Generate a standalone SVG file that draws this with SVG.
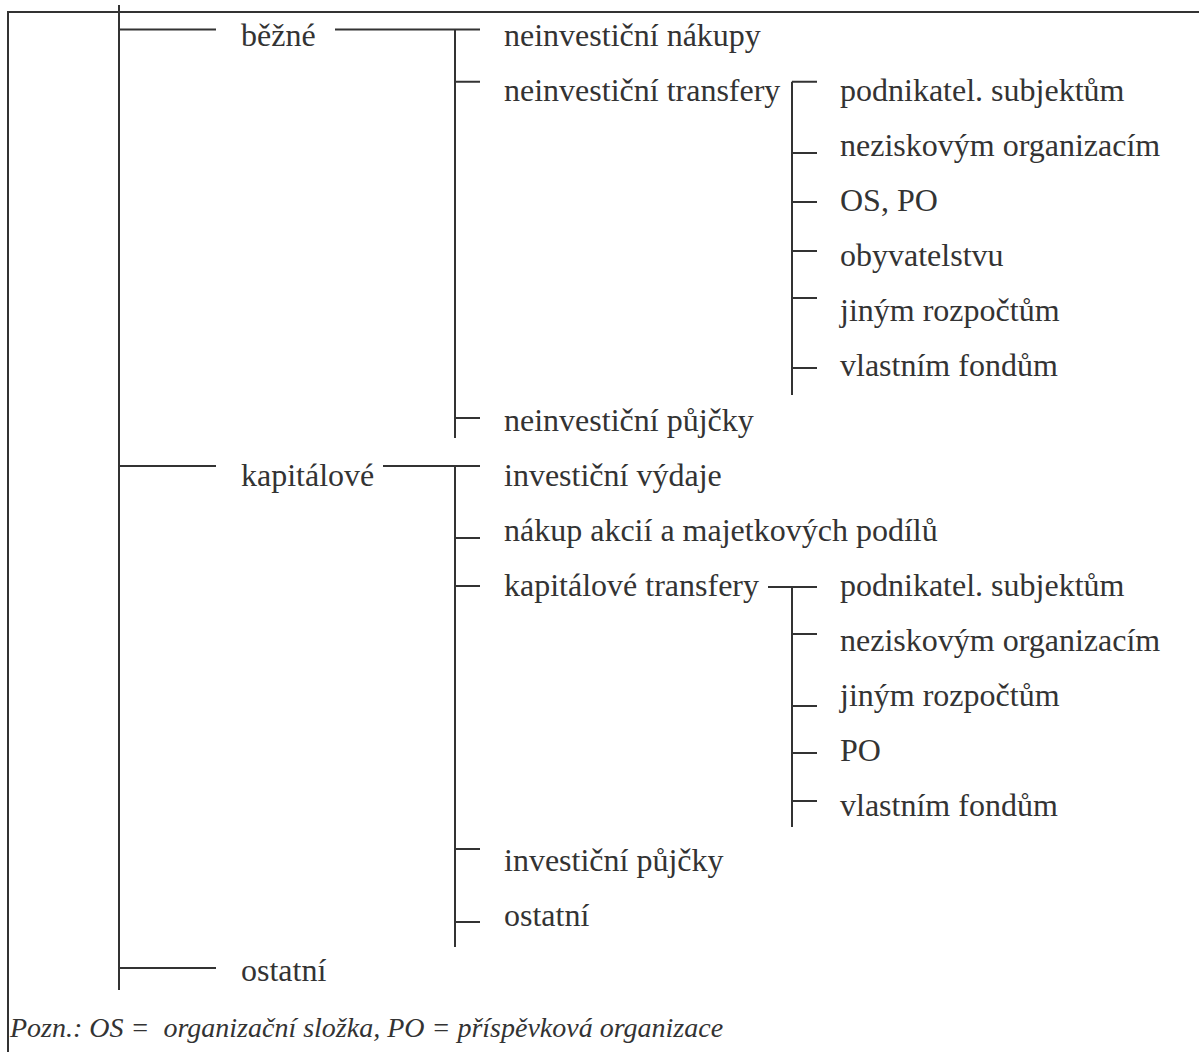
<svg xmlns="http://www.w3.org/2000/svg" width="1199" height="1052" viewBox="0 0 1199 1052">
  <style>
    .ln { stroke: #333; stroke-width: 2; fill: none; }
    .lb { font-family: "Liberation Serif", "Times New Roman", serif; font-size: 32px; fill: #333; }
    .nt { font-family: "Liberation Serif", "Times New Roman", serif; font-size: 28px; font-style: italic; fill: #333; }
  </style>
  <rect width="1199" height="1052" fill="#fff"/>

  <!-- frame -->
  <path class="ln" d="M8,1052 V12 H1199"/>

  <g id="connectors">
    <!-- level 1 -->
    <path class="ln" d="M119,5 V990"/>
    <path class="ln" d="M119,29.5 H216 M335,29.5 H480"/>
    <path class="ln" d="M119,466 H216 M383,466 H480"/>
    <path class="ln" d="M119,968 H216"/>
    <!-- level 2: běžné -->
    <path class="ln" d="M455,29.5 V438 M455,81.7 H480 M455,418 H480"/>
    <!-- level 3: neinvestiční transfery -->
    <path class="ln" d="M792,81.7 V395 M792,81.7 H817 M792,153 H817 M792,202 H817 M792,251 H817 M792,298 H817 M792,368 H817"/>
    <!-- level 2: kapitálové -->
    <path class="ln" d="M455,466 V947 M455,538 H480 M455,586 H480 M455,849 H480 M455,922 H480"/>
    <!-- level 3: kapitálové transfery -->
    <path class="ln" d="M768,587 H817 M792,587 V827 M792,634 H817 M792,706 H817 M792,753 H817 M792,801 H817"/>
  </g>

  <g id="n-bezne"><text class="lb" x="241" y="46">běžné</text></g>
  <g id="n-neinv-nakupy"><text class="lb" x="504" y="46">neinvestiční nákupy</text></g>
  <g id="n-neinv-transfery"><text class="lb" x="504" y="101">neinvestiční transfery</text></g>
  <g id="n-nt-podnikatel"><text class="lb" x="840" y="101">podnikatel. subjektům</text></g>
  <g id="n-nt-neziskovym"><text class="lb" x="840" y="156">neziskovým organizacím</text></g>
  <g id="n-nt-ospo"><text class="lb" x="840" y="211">OS, PO</text></g>
  <g id="n-nt-obyvatelstvu"><text class="lb" x="840" y="266">obyvatelstvu</text></g>
  <g id="n-nt-jinym"><text class="lb" x="840" y="321">jiným rozpočtům</text></g>
  <g id="n-nt-vlastnim"><text class="lb" x="840" y="376">vlastním fondům</text></g>
  <g id="n-neinv-pujcky"><text class="lb" x="504" y="431">neinvestiční půjčky</text></g>

  <g id="n-kapitalove"><text class="lb" x="241" y="486">kapitálové</text></g>
  <g id="n-inv-vydaje"><text class="lb" x="504" y="486">investiční výdaje</text></g>
  <g id="n-nakup-akcii"><text class="lb" x="504" y="541">nákup akcií a majetkových podílů</text></g>
  <g id="n-kap-transfery"><text class="lb" x="504" y="596">kapitálové transfery</text></g>
  <g id="n-kt-podnikatel"><text class="lb" x="840" y="596">podnikatel. subjektům</text></g>
  <g id="n-kt-neziskovym"><text class="lb" x="840" y="651">neziskovým organizacím</text></g>
  <g id="n-kt-jinym"><text class="lb" x="840" y="706">jiným rozpočtům</text></g>
  <g id="n-kt-po"><text class="lb" x="840" y="761">PO</text></g>
  <g id="n-kt-vlastnim"><text class="lb" x="840" y="816">vlastním fondům</text></g>
  <g id="n-inv-pujcky"><text class="lb" x="504" y="871">investiční půjčky</text></g>
  <g id="n-kap-ostatni"><text class="lb" x="504" y="926">ostatní</text></g>

  <g id="n-ostatni"><text class="lb" x="241" y="981">ostatní</text></g>

  <text class="nt" x="10" y="1037" xml:space="preserve">Pozn.: OS =  organizační složka, PO = příspěvková organizace</text>
</svg>
